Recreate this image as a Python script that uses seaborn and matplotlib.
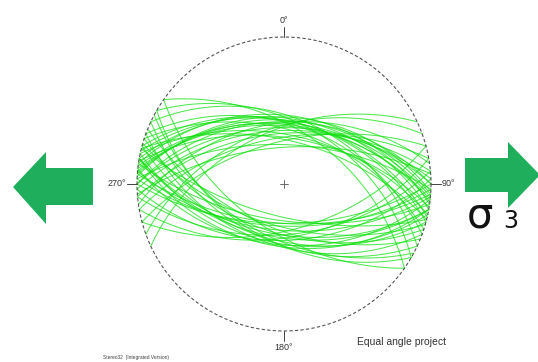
import numpy as np
import pandas as pd
import matplotlib
matplotlib.use("Agg")
import matplotlib.pyplot as plt
from matplotlib.patches import Polygon
import seaborn as sns

# ---- data: planes (right-hand-rule strike, dip) ----
strikes = [100, 95, 105, 90, 110, 85, 115, 98, 102, 92, 108, 80, 112, 96, 104, 88,
           106, 100, 94, 118, 75, 100, 120, 125,
           275, 280, 270, 265, 285, 260, 290, 272, 278, 268, 255, 282, 274, 266, 288, 276,
           262, 284, 273, 250, 270, 279, 245, 300, 305, 295, 283, 277]
dips = [50, 55, 48, 60, 45, 52, 47, 62, 46, 58, 53, 50, 56, 45, 65, 48,
        58, 44, 60, 50, 55, 52, 48, 55,
        45, 42, 48, 52, 44, 55, 46, 60, 40, 50, 58, 53, 43, 62, 50, 47,
        45, 57, 41, 48, 44, 55, 50, 45, 50, 42, 44, 46]
cardinal_labels = ["0°", "90°", "180°", "270°"]

sns.set_style("white")
plt.rcParams['font.family'] = ['Liberation Sans', 'DejaVu Sans']

W, H = 538, 362
fig = plt.figure(figsize=(W / 100, H / 100), dpi=100)
ax = fig.add_axes([0, 0, 1, 1])

CX, CY, R = 284, 184, 147


def great_circle(strike, dip, n=181):
    s = np.radians(strike)
    dd = s + np.pi / 2
    d = np.radians(dip)
    r = np.linspace(0, np.pi, n)
    v1 = np.array([np.sin(s), np.cos(s), 0.0])
    v2 = np.array([np.sin(dd) * np.cos(d), np.cos(dd) * np.cos(d), np.sin(d)])
    v = np.outer(np.cos(r), v1) + np.outer(np.sin(r), v2)
    plunge = np.arcsin(np.clip(v[:, 2], -1, 1))
    trend = np.arctan2(v[:, 0], v[:, 1])
    rho = np.tan((np.pi / 2 - plunge) / 2)
    return CX + R * rho * np.sin(trend), CY - R * rho * np.cos(trend)


rows = []
for i, (st, dp) in enumerate(zip(strikes, dips)):
    x, y = great_circle(st, dp)
    rows.append(pd.DataFrame({"x": x, "y": y, "plane": i}))
df = pd.concat(rows, ignore_index=True)

sns.lineplot(data=df, x="x", y="y", units="plane", estimator=None, sort=False,
             color="#14e014", lw=0.75, alpha=0.75, legend=False, ax=ax)
ax.set_xlim(0, W)
ax.set_ylim(H, 0)
ax.axis("off")

# primitive circle
t = np.linspace(0, 2 * np.pi, 400)
ax.plot(CX + R * np.cos(t), CY + R * np.sin(t), ls=(0, (3, 2)), color="#555555", lw=0.8)
# cardinal ticks
tk = 10
ax.plot([CX, CX], [CY - R - tk, CY - R], color="#444444", lw=0.7)
ax.plot([CX, CX], [CY + R, CY + R + tk], color="#444444", lw=0.7)
ax.plot([CX - R - tk, CX - R], [CY, CY], color="#444444", lw=0.7)
ax.plot([CX + R, CX + R + tk], [CY, CY], color="#444444", lw=0.7)
# centre cross
ax.plot([CX - 4, CX + 4], [CY, CY], color="#555555", lw=0.6)
ax.plot([CX, CX], [CY - 4, CY + 4], color="#555555", lw=0.6)

lc = "#333333"
ax.text(CX, CY - R - tk - 2, cardinal_labels[0], ha="center", va="bottom", fontsize=6.5, color=lc)
ax.text(CX + R + tk + 1, CY, cardinal_labels[1], ha="left", va="center", fontsize=6.5, color=lc)
ax.text(CX, CY + R + tk + 2, cardinal_labels[2], ha="center", va="top", fontsize=6.5, color=lc)
ax.text(CX - R - tk - 1, CY, cardinal_labels[3], ha="right", va="center", fontsize=6.5, color=lc)

# arrows
green = "#1fae5c"
left_arrow = [(13, 187), (46, 152), (46, 168), (93, 168), (93, 205), (46, 205), (46, 224)]
right_arrow = [(465, 158), (508, 158), (508, 142), (540, 175), (508, 208), (508, 192), (465, 192)]
ax.add_patch(Polygon(left_arrow, closed=True, color=green, lw=0))
ax.add_patch(Polygon(right_arrow, closed=True, color=green, lw=0))

ax.text(467, 228, "σ", fontsize=30, color="#111111", ha="left", va="baseline",
        family="DejaVu Sans")
ax.text(503, 228, "3", fontsize=17, color="#111111", ha="left", va="baseline",
        family="DejaVu Sans")

ax.text(357, 342, "Equal angle project", fontsize=7.5, color="#333333", ha="left", va="center")
ax.text(103, 357, "Stereo32  (Integrated Version)", fontsize=3.5, color="#444444",
        ha="left", va="center")

fig.savefig("out.png", dpi=100)
